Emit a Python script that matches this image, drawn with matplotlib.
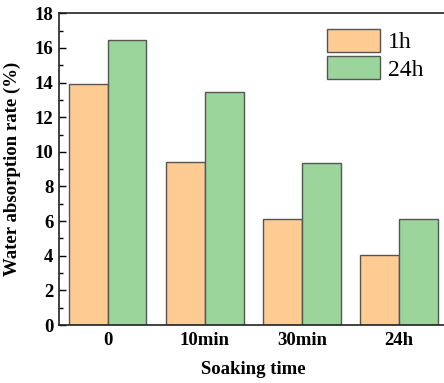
import matplotlib
matplotlib.use("Agg")
import matplotlib.pyplot as plt
import numpy as np
from matplotlib.ticker import MultipleLocator

categories = ["0", "10min", "30min", "24h"]
series_names = ["1h", "24h"]
rate_1h = [13.93, 9.41, 6.12, 4.02]
rate_24h = [16.44, 13.45, 9.33, 6.10]
y_ticks = [0, 2, 4, 6, 8, 10, 12, 14, 16, 18]

plt.rcParams["font.family"] = ["Liberation Serif", "DejaVu Serif"]

W, H = 444, 383
fig = plt.figure(figsize=(W / 100, H / 100), dpi=100)
left, right, top, bottom = 59, 447.5, 13.3, 325
ax = fig.add_axes([left / W, 1 - bottom / H, (right - left) / W, (bottom - top) / H])

x = np.arange(len(categories))
width = 0.4
ax.bar(x - width / 2, rate_1h, width, color="#FECB92", edgecolor="#555555",
       linewidth=1.0, label=series_names[0], zorder=2)
ax.bar(x + width / 2, rate_24h, width, color="#9CD59B", edgecolor="#555555",
       linewidth=1.0, label=series_names[1], zorder=2)

ax.set_xlim(-0.5, 3.5)
ax.set_ylim(0, 18)
ax.set_xticks(x)
ax.set_xticklabels(categories)
ax.set_yticks(y_ticks)
ax.yaxis.set_minor_locator(MultipleLocator(1))

for s in ax.spines.values():
    s.set_linewidth(1.2)
    s.set_color("#222222")

ax.tick_params(axis="y", which="major", direction="in", length=5, width=1.0,
               labelsize=13.5, pad=4)
ax.tick_params(axis="y", which="minor", direction="in", length=3, width=1.0)
ax.tick_params(axis="x", which="major", length=0, labelsize=13.5, pad=5)
for lbl in ax.get_xticklabels() + ax.get_yticklabels():
    lbl.set_fontweight("bold")

ax.set_xlabel("Soaking time", fontsize=13.5, fontweight="bold", labelpad=9)
ax.set_ylabel("Water absorption rate (%)", fontsize=13.5, fontweight="bold", labelpad=10)

ax.legend(loc="upper left", bbox_to_anchor=(327 / W, 1 - 29 / H),
          bbox_transform=fig.transFigure, frameon=False, fontsize=17,
          handlelength=2.25, handleheight=1.1, handletextpad=0.35,
          labelspacing=0.12, borderpad=0, borderaxespad=0)

fig.savefig("out.png", dpi=100)
